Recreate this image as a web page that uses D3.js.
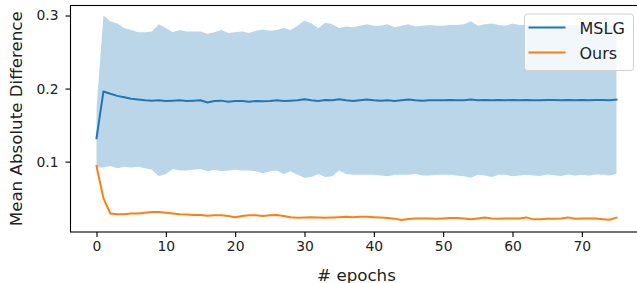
<!DOCTYPE html>
<html>
<head>
<meta charset="utf-8">
<script src="https://cdn.jsdelivr.net/npm/d3@7"></script>
<style>
  body { margin: 0; background: #fff; }
  text { font-family: "DejaVu Sans", sans-serif; fill: #222; }
</style>
</head>
<body>
<div id="chart"></div>
<script>
// values
const epochs = d3.range(0, 76);

const mslgMean = [
  0.132, 0.196, 0.193, 0.190, 0.188, 0.186, 0.185, 0.184, 0.1835, 0.184,
  0.183, 0.1835, 0.184, 0.183, 0.1835, 0.184, 0.181, 0.183, 0.1835, 0.182,
  0.183, 0.183, 0.182, 0.183, 0.1825, 0.183, 0.184, 0.183, 0.1835, 0.184,
  0.1855, 0.184, 0.183, 0.1845, 0.184, 0.1855, 0.184, 0.183, 0.184, 0.185,
  0.184, 0.1835, 0.184, 0.183, 0.184, 0.185, 0.184, 0.1835, 0.184, 0.184,
  0.184, 0.1845, 0.184, 0.184, 0.185, 0.184, 0.1845, 0.184, 0.1845, 0.184,
  0.1845, 0.184, 0.1845, 0.184, 0.184, 0.1845, 0.1845, 0.184, 0.1845, 0.184,
  0.1845, 0.184, 0.1845, 0.1845, 0.184, 0.185
];

const mslgStd = [
  0.040, 0.104, 0.099, 0.099, 0.095, 0.094, 0.092, 0.093, 0.0945, 0.104,
  0.100, 0.0935, 0.096, 0.095, 0.0945, 0.094, 0.094, 0.094, 0.0965, 0.094,
  0.094, 0.095, 0.094, 0.096, 0.0985, 0.096, 0.096, 0.100, 0.0965, 0.102,
  0.1075, 0.105, 0.100, 0.1055, 0.104, 0.0975, 0.101, 0.101, 0.102, 0.103,
  0.102, 0.1025, 0.104, 0.101, 0.102, 0.103, 0.101, 0.1025, 0.103, 0.102,
  0.102, 0.1025, 0.103, 0.104, 0.107, 0.102, 0.1035, 0.105, 0.1025, 0.102,
  0.1045, 0.103, 0.1025, 0.103, 0.1035, 0.102, 0.103, 0.1035, 0.102, 0.103,
  0.1025, 0.103, 0.102, 0.1025, 0.103, 0.102
];

const oursMean = [
  0.094, 0.050, 0.029, 0.028, 0.028, 0.029, 0.029, 0.030, 0.031, 0.031,
  0.030, 0.029, 0.028, 0.0275, 0.027, 0.027, 0.026, 0.0265, 0.0265, 0.0255,
  0.024, 0.0255, 0.0265, 0.0265, 0.0255, 0.0265, 0.027, 0.0255, 0.024, 0.0233,
  0.0237, 0.024, 0.0237, 0.0233, 0.0237, 0.024, 0.0245, 0.024, 0.0245, 0.0245,
  0.024, 0.0237, 0.0228, 0.022, 0.020, 0.0215, 0.0223, 0.0223, 0.0223, 0.0218,
  0.0223, 0.0228, 0.0228, 0.0223, 0.021, 0.0223, 0.0237, 0.0223, 0.0218, 0.0223,
  0.0223, 0.0223, 0.0237, 0.021, 0.021, 0.0218, 0.0218, 0.0223, 0.0237, 0.0218,
  0.0223, 0.0223, 0.0223, 0.0213, 0.0205, 0.0233
];

const xTicks = [0, 10, 20, 30, 40, 50, 60, 70];
const yTicks = [0.1, 0.2, 0.3];
const seriesNames = ["MSLG", "Ours"];
const seriesColors = ["#1f77b4", "#ff7f0e"];

const width = 637, height = 283;
const margin = {top: 5.5, right: -5.5, bottom: 51, left: 70.5};
const plotW = width - margin.left - margin.right;
const plotH = height - margin.top - margin.bottom;

const svg = d3.select("#chart")
    .append("svg")
    .attr("width", width)
    .attr("height", height);

const x = d3.scaleLinear().domain([-3.75, 78.75]).range([margin.left, margin.left + plotW]);
const y = d3.scaleLinear().domain([0.0037, 0.3137]).range([margin.top + plotH, margin.top]);

// shaded std band
const band = d3.area()
    .x((d, i) => x(epochs[i]))
    .y0((d, i) => y(mslgMean[i] - mslgStd[i]))
    .y1((d, i) => y(mslgMean[i] + mslgStd[i]));

svg.append("path")
    .datum(mslgMean)
    .attr("d", band)
    .attr("fill", seriesColors[0])
    .attr("fill-opacity", 0.3);

const line = d3.line()
    .x((d, i) => x(epochs[i]))
    .y(d => y(d));

[mslgMean, oursMean].forEach((values, k) => {
    svg.append("path")
        .datum(values)
        .attr("d", line)
        .attr("fill", "none")
        .attr("stroke", seriesColors[k])
        .attr("stroke-width", 2)
        .attr("stroke-linejoin", "round")
        .attr("stroke-linecap", "square");
});

// axes
const xAxis = svg.append("g")
    .attr("transform", `translate(0,${margin.top + plotH})`)
    .call(d3.axisBottom(x).tickValues(xTicks).tickSize(5).tickPadding(4.5).tickFormat(d3.format("d")));

const yAxis = svg.append("g")
    .attr("transform", `translate(${margin.left},0)`)
    .call(d3.axisLeft(y).tickValues(yTicks).tickSize(5).tickPadding(7).tickFormat(d3.format(".1f")));

[xAxis, yAxis].forEach(g => {
    g.select(".domain").remove();
    g.selectAll(".tick line").attr("stroke", "#000").attr("stroke-width", 1.1);
    g.selectAll(".tick text")
        .attr("font-size", 13.9)
        .attr("font-family", "DejaVu Sans")
        .attr("fill", "#222");
});

// frame
svg.append("rect")
    .attr("x", margin.left)
    .attr("y", margin.top)
    .attr("width", plotW)
    .attr("height", plotH)
    .attr("fill", "none")
    .attr("stroke", "#000")
    .attr("stroke-width", 1.1);

svg.append("text")
    .text("# epochs")
    .attr("text-anchor", "middle")
    .attr("x", margin.left + plotW / 2)
    .attr("y", 281)
    .attr("font-size", 16.7);

svg.append("text")
    .text("Mean Absolute Difference")
    .attr("text-anchor", "middle")
    .attr("transform", `translate(21.5,${margin.top + plotH / 2}) rotate(-90)`)
    .attr("font-size", 16.7);

// legend
const legend = svg.append("g");
legend.append("rect")
    .attr("x", 524.5)
    .attr("y", 14)
    .attr("width", 109)
    .attr("height", 56.5)
    .attr("rx", 3)
    .attr("fill", "#fff")
    .attr("fill-opacity", 0.8)
    .attr("stroke", "#d0d0d0")
    .attr("stroke-width", 1);

seriesNames.forEach((name, k) => {
    const level = 27.5 + k * 25;
    legend.append("line")
        .attr("x1", 528.5)
        .attr("x2", 565.5)
        .attr("y1", level)
        .attr("y2", level)
        .attr("stroke", seriesColors[k])
        .attr("stroke-width", 2);
    legend.append("text")
        .text(name)
        .attr("x", 579.5)
        .attr("y", level + 6.5)
        .attr("font-size", 16);
});
</script>
</body>
</html>
